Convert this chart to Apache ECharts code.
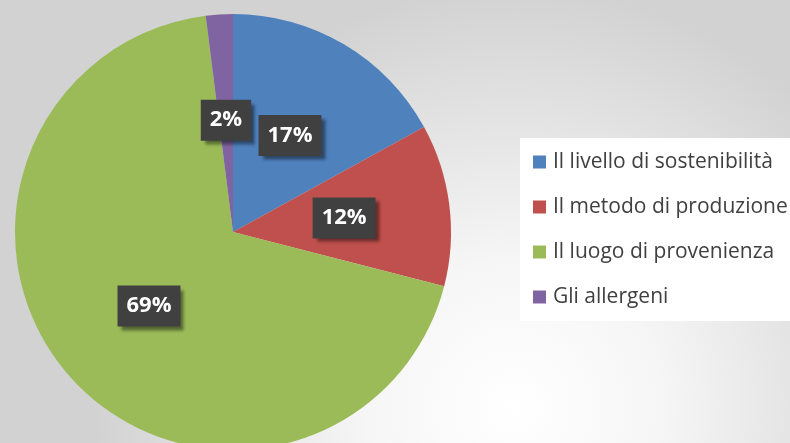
<!DOCTYPE html>
<html><head><meta charset="utf-8">
<script src="https://cdn.jsdelivr.net/npm/echarts@6/dist/echarts.min.js"></script>
<style>html,body{margin:0;padding:0;}#c{width:790px;height:443px;}</style>
</head><body><div id="c"></div>
<script>
const categories = ['Il livello di sostenibilità', 'Il metodo di produzione', 'Il luogo di provenienza', 'Gli allergeni'];
const values = [17, 12, 69, 2];
const colors = ['#4f81bd', '#c0504d', '#9bbb59', '#8064a2'];

const chart = echarts.init(document.getElementById('c'));
chart.setOption({
  backgroundColor: {
    type: 'radial', x: 0.65, y: 0.92, r: 0.95,
    colorStops: [
      {offset: 0, color: '#ffffff'},
      {offset: 0.35, color: '#f6f6f6'},
      {offset: 1, color: '#d2d2d2'}
    ]
  },
  animation: false,
  legend: {
    orient: 'vertical',
    left: 520, top: 138,
    backgroundColor: '#ffffff',
    padding: [11, 40, 11, 13],
    itemWidth: 13, itemHeight: 13, itemGap: 19,
    icon: 'rect',
    textStyle: {fontFamily: 'Open Sans', fontSize: 21, color: '#404040', lineHeight: 26, padding: [0, 0, 0, 2]},
    data: categories
  },
  series: [{
    type: 'pie',
    center: [233, 232],
    radius: 218,
    startAngle: 90,
    clockwise: true,
    color: colors,
    itemStyle: {borderWidth: 0},
    label: {
      position: 'inside',
      formatter: '{d}%',
      fontFamily: 'Open Sans',
      fontWeight: 'bold',
      fontSize: 22,
      color: '#ffffff',
      backgroundColor: '#404040',
      padding: [10, 9, 9, 9],
      shadowColor: 'rgba(0,0,0,0.45)',
      shadowBlur: 3,
      shadowOffsetX: 4,
      shadowOffsetY: 4
    },
    labelLine: {show: false},
    data: categories.map((n, i) => ({name: n, value: values[i]}))
  }]
});
</script></body></html>
